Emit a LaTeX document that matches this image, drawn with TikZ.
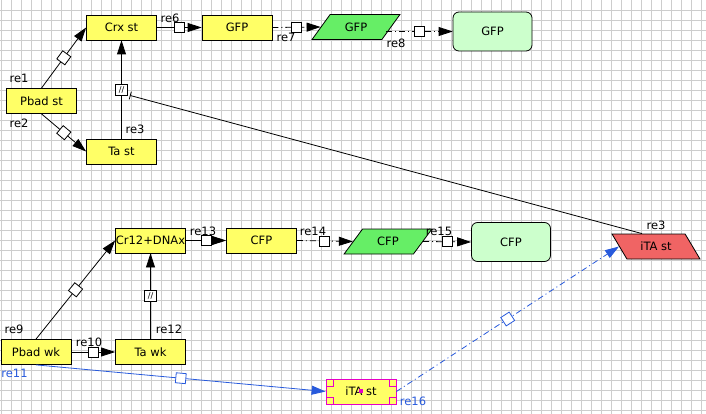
\documentclass[tikz,border=0pt]{standalone}
\usepackage{fontspec}
\setmainfont{DejaVu Sans}
\usetikzlibrary{shapes.geometric,arrows.meta,calc}
\definecolor{specyellow}{RGB}{255,255,102}
\definecolor{rnagreen}{RGB}{102,238,102}
\definecolor{protgreen}{RGB}{204,255,204}
\definecolor{inhred}{RGB}{240,100,100}
\definecolor{reblue}{RGB}{40,90,220}
\definecolor{selpink}{RGB}{230,0,200}
\definecolor{gridgray}{RGB}{205,205,205}
\tikzset{
  species/.style={draw,fill=specyellow,minimum width=70pt,minimum height=25pt,inner sep=0pt},
  mrna/.style={trapezium,draw,fill=rnagreen,trapezium left angle=48,trapezium right angle=132,
    trapezium stretches=true,minimum width=88pt,minimum height=25pt,inner sep=0pt},
  protein/.style={draw,fill=protgreen,rounded corners=6pt,minimum width=79pt,minimum height=39pt},
  reac/.style={-{Triangle[length=14pt,width=9pt]}},
  dashdot/.style={dash pattern=on 6pt off 3pt on 1pt off 3pt},
  knot/.style={draw,fill=white,solid,minimum size=10pt,inner sep=0pt},
  modbox/.style={draw,fill=white,minimum width=12pt,minimum height=11pt,inner sep=0pt,
    font=\fontsize{8}{8}\selectfont},
  rlabel/.style={inner sep=0pt},
  handle/.style={draw=selpink,fill=specyellow,minimum size=7pt,inner sep=0pt}
}
\begin{document}
\begin{tikzpicture}[x=1pt,y=-1pt,line width=0.8pt,font=\fontsize{11.5}{13}\selectfont]
\useasboundingbox (0,0) rectangle (706,414);
% grid
\foreach \gx in {0,...,70} \draw[gridgray,line width=0.6pt] (1.5+10*\gx,0) -- (1.5+10*\gx,414);
\foreach \gy in {1,...,41} \draw[gridgray,line width=0.6pt] (0,10*\gy) -- (706,10*\gy);

% st part
\node[species] (pbadst) at (41.5,101) {Pbad st};
\node[species] (crxst) at (121.5,27.5) {Crx st};
\node[species] (tast) at (121.5,151.5) {Ta st};
\node[species] (gfpgene) at (237,27.5) {GFP};
\node[mrna] (gfprna) at (356,27) {GFP};
\node[protein] (gfpprot) at (492.5,31.5) {GFP};

% wk part
\node[species] (cr12) at (150.5,240.5) {Cr12+DNAx};
\node[species] (pbadwk) at (36,352) {Pbad wk};
\node[species] (tawk) at (150.5,352) {Ta wk};
\node[species] (cfpgene) at (261.5,240.5) {CFP};
\node[mrna] (cfprna) at (388,241.5) {CFP};
\node[protein] (cfpprot) at (511,242) {CFP};

% inducer
\node[mrna,fill=inhred,trapezium left angle=132,trapezium right angle=48] (itared) at (656,246.5) {iTA st};
\node[species,draw=selpink] (itayel) at (361,391.5) {iTA st};
\node[handle,anchor=north west] at (itayel.north west) {};
\node[handle,anchor=north east] at (itayel.north east) {};
\node[handle,anchor=south west] at (itayel.south west) {};
\node[handle,anchor=south east] at (itayel.south east) {};
\fill[selpink] (358.5,389) rectangle ++(4,4);

% reactions st
\draw[reac] (pbadst.north) -- node[knot,sloped]{} (crxst.west);
\draw[reac] (pbadst.south) -- node[knot,sloped]{} (tast.west);
\draw[reac] (tast.north) -- node[modbox] (re3box) {//} (crxst.south);
\draw[{Bar[width=8pt]}-] ($(re3box.south east)+(2,0)$) -- ($(itared.north)+(-14,0)$);
\draw[reac] (crxst.east) -- node[knot]{} (gfpgene.west);
\draw[reac,dashdot] (gfpgene.east) -- node[knot]{} (gfprna.west);
\draw[reac,dashdot] ($(gfprna.east |- gfpprot.west)+(-5,0)$) -- node[knot]{} (gfpprot.west);

% reactions wk
\draw[reac] (pbadwk.north) -- node[knot,sloped]{} (cr12.west);
\draw[reac] (pbadwk.east) -- node[knot]{} (tawk.west);
\draw[reac] (tawk.north) -- node[modbox]{//} (cr12.south);
\draw[reac] (cr12.east) -- node[knot]{} (cfpgene.west);
\draw[reac,dashdot] (cfpgene.east) -- node[knot]{} (cfprna.west);
\draw[reac,dashdot] (cfprna.east) -- node[knot]{} (cfpprot.west);
\draw[reac,reblue] (pbadwk.south) -- node[knot,sloped,draw=reblue]{} (itayel.west);
\draw[reac,reblue,dashdot] (itayel.east) -- node[knot,sloped,draw=reblue]{} (itared.west);

% labels
\node[rlabel] at (19,78) {re1};
\node[rlabel] at (19,123) {re2};
\node[rlabel] at (135,129) {re3};
\node[rlabel] at (170,18) {re6};
\node[rlabel] at (286,37) {re7};
\node[rlabel] at (396,43) {re8};
\node[rlabel] at (14,329) {re9};
\node[rlabel] at (89,342) {re10};
\node[rlabel,text=reblue,anchor=west] at (1,373) {re11};
\node[rlabel] at (169,329) {re12};
\node[rlabel] at (203,231) {re13};
\node[rlabel] at (313,231) {re14};
\node[rlabel] at (439,231) {re15};
\node[rlabel,text=reblue] at (413,401) {re16};
\node[rlabel] at (656,225) {re3};
\end{tikzpicture}
\end{document}
